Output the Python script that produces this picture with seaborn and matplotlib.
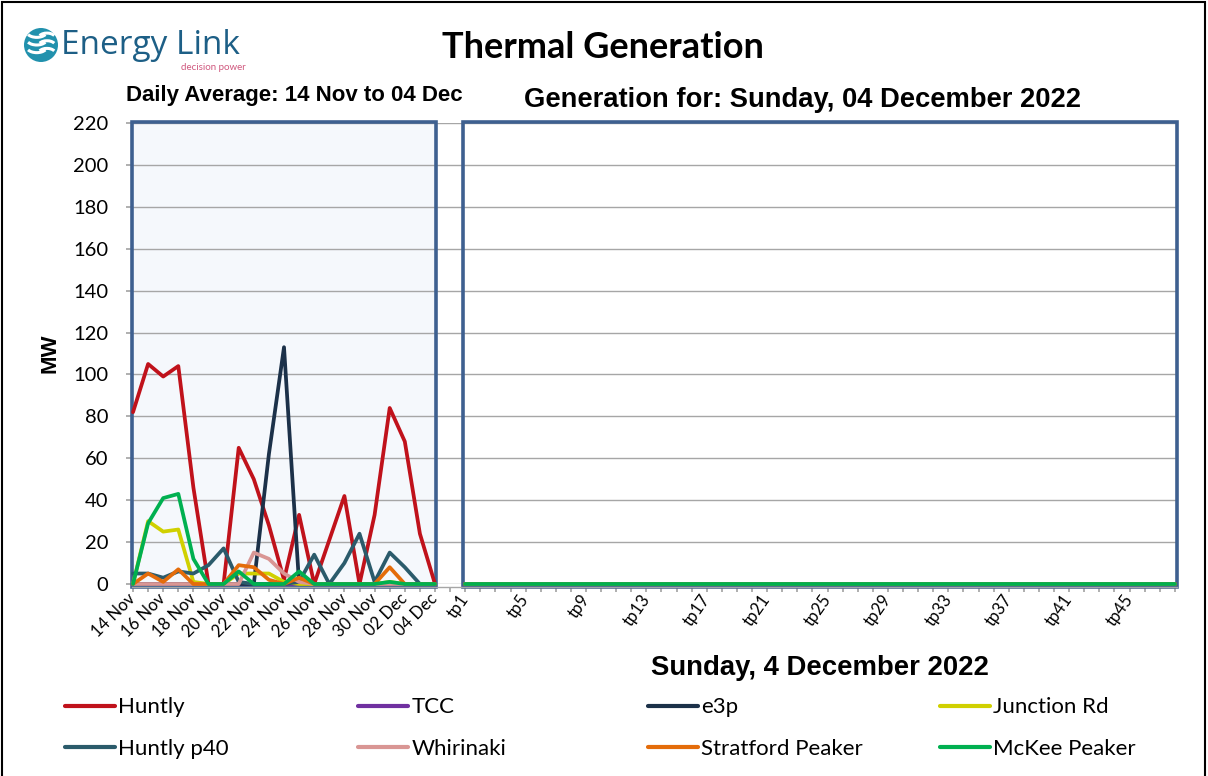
import matplotlib
matplotlib.use("Agg")
import matplotlib.pyplot as plt
from matplotlib.patches import Rectangle, Circle, Arc
import seaborn as sns
import pandas as pd

# stations and their colours
stations = ["Huntly", "TCC", "e3p", "Junction Rd",
            "Huntly p40", "Whirinaki", "Stratford Peaker", "McKee Peaker"]
station_colors = ["#c0121b", "#7030a0", "#1c3149", "#d0d000",
                  "#2b5b6b", "#d99694", "#e46c0a", "#00b050"]

# daily averages, 14 Nov .. 04 Dec (MW)
days = ["14 Nov", "15 Nov", "16 Nov", "17 Nov", "18 Nov", "19 Nov", "20 Nov",
        "21 Nov", "22 Nov", "23 Nov", "24 Nov", "25 Nov", "26 Nov", "27 Nov",
        "28 Nov", "29 Nov", "30 Nov", "01 Dec", "02 Dec", "03 Dec", "04 Dec"]
day_ticks = ["14 Nov", "16 Nov", "18 Nov", "20 Nov", "22 Nov", "24 Nov",
             "26 Nov", "28 Nov", "30 Nov", "02 Dec", "04 Dec"]

huntly = [82, 105, 99, 104, 46, 0, 0, 65, 50, 28, 2, 33, 0, 21, 42, 0, 33, 84, 68, 24, 0]
tcc = [0, 0, 0, 0, 0, 0, 0, 0, 0, 0, 0, 0, 0, 0, 0, 0, 0, 0, 0, 0, 0]
e3p = [0, 0, 0, 0, 0, 0, 0, 0, 0, 62, 113, 0, 0, 0, 0, 0, 0, 0, 0, 0, 0]
junction_rd = [0, 30, 25, 26, 1, 0, 0, 5, 5, 5, 1, 0, 0, 0, 0, 0, 0, 1, 0, 0, 0]
huntly_p40 = [5, 5, 3, 6, 5, 9, 17, 1, 0, 0, 0, 1, 14, 0, 10, 24, 1, 15, 8, 0, 0]
whirinaki = [0, 0, 0, 0, 0, 0, 0, 0, 15, 12, 5, 1, 0, 0, 0, 0, 0, 0, 0, 0, 0]
stratford = [0, 5, 1, 7, 0, 0, 0, 9, 8, 2, 0, 3, 0, 0, 0, 0, 0, 8, 0, 0, 0]
mckee = [0, 29, 41, 43, 12, 0, 0, 6, 0, 0, 0, 6, 0, 0, 0, 0, 0, 1, 0, 0, 0]
daily = [huntly, tcc, e3p, junction_rd, huntly_p40, whirinaki, stratford, mckee]

# trading periods for Sunday 4 December 2022: every station at 0 MW
tp_names = [f"tp{i}" for i in range(1, 49)]
tp_ticks = ["tp1", "tp5", "tp9", "tp13", "tp17", "tp21",
            "tp25", "tp29", "tp33", "tp37", "tp41", "tp45"]
tp_mw = [0] * 48

# one category axis: the days, one empty slot, then the trading periods
day_pos = list(range(len(days)))
tp_pos = [len(days) + 1 + i for i in range(len(tp_names))]

rows = []
for name, vals in zip(stations, daily):
    for p, v in zip(day_pos, vals):
        rows.append({"pos": p, "MW": v, "station": name})
df_daily = pd.DataFrame(rows)
rows = []
for name in stations:
    for p, v in zip(tp_pos, tp_mw):
        rows.append({"pos": p, "MW": v, "station": name})
df_tp = pd.DataFrame(rows)

sns.set_theme(style="white")
plt.rcParams["font.family"] = ["Lato", "DejaVu Sans"]
plt.rcParams["axes.axisbelow"] = "line"
for k in ["text.color", "axes.labelcolor", "xtick.labelcolor", "ytick.labelcolor"]:
    plt.rcParams[k] = "black"

fig = plt.figure(figsize=(12.08, 7.76), dpi=100)
W, H = 1208, 776
ax = fig.add_axes([131.5 / W, 1 - 584 / H, 1045.5 / W, 461 / H])
ax.set_xlim(-0.1, 69.14)
ax.set_ylim(0, 220)

palette = dict(zip(stations, station_colors))
sns.lineplot(data=df_daily, x="pos", y="MW", hue="station", hue_order=stations,
             palette=palette, linewidth=2.7, ax=ax, legend=True, zorder=3,
             clip_on=False)
sns.lineplot(data=df_tp, x="pos", y="MW", hue="station", hue_order=stations,
             palette=palette, linewidth=2.7, ax=ax, legend=False, zorder=3,
             clip_on=False)
handles, labels = ax.get_legend_handles_labels()
ax.get_legend().remove()

# panels (frames sit a touch below the zero line, as in the original)
panel_edge = "#3e6090"
left_x0, left_x1 = -0.1, 20.07
right_x0, right_x1 = 21.85, 69.14
y0, y1 = -1.6, 220.4
ax.add_patch(Rectangle((left_x0, y0), left_x1 - left_x0, y1 - y0, facecolor="#f5f8fc",
                       edgecolor="none", zorder=0.2, clip_on=False))
for x0, x1 in [(left_x0, left_x1), (right_x0, right_x1)]:
    ax.add_patch(Rectangle((x0, y0), x1 - x0, y1 - y0, fill=False, edgecolor=panel_edge,
                           linewidth=2.6, zorder=2.5, clip_on=False))

ax.set_yticks(range(0, 221, 20))
ax.yaxis.grid(True, color="#a6a6a6", linewidth=1)
ax.xaxis.grid(False)
for s in ["top", "right", "left"]:
    ax.spines[s].set_visible(False)
ax.spines["bottom"].set_color("#a6a6a6")
ax.spines["bottom"].set_linewidth(1)
ax.spines["bottom"].set_position(("data", y0))
ax.tick_params(axis="y", direction="out", length=4.5, color="#a6a6a6",
               labelsize=14.5, pad=12, left=True)
ax.tick_params(axis="x", direction="out", length=3.5, color="#a6a6a6",
               labelsize=12, pad=3, bottom=True)

all_pos = day_pos + [len(days)] + tp_pos
all_names = days + [""] + tp_names
ax.set_xticks(all_pos)
ax.set_xticklabels([n if (n in day_ticks or n in tp_ticks) else "" for n in all_names])
for lab in ax.get_xticklabels():
    t = lab.get_text()
    if t.startswith("tp"):
        lab.set_rotation(55)
    else:
        lab.set_rotation(45)
    lab.set_ha("right")
    lab.set_va("center")
    lab.set_rotation_mode("anchor")
ax.set_xlabel("")
ax.set_ylabel("MW", fontsize=16, fontweight="bold", family=["Liberation Sans"],
              labelpad=9)

# texts
fig.text(603 / W, 1 - 48 / H, "Thermal Generation", fontsize=26, fontweight="bold",
         ha="center", va="center")
fig.text(294 / W, 1 - 96 / H, "Daily Average: 14 Nov to 04 Dec", fontsize=16,
         fontweight="bold", family=["Liberation Sans"], ha="center", va="center")
fig.text(802 / W, 1 - 100 / H, "Generation for: Sunday, 04 December 2022", fontsize=19.7,
         fontweight="bold", family=["Liberation Sans"], ha="center", va="center")
fig.text(820 / W, 1 - 668 / H, "Sunday, 4 December 2022", fontsize=19.8,
         fontweight="bold", family=["Liberation Sans"], ha="center", va="center")

# logo
lax = fig.add_axes([24 / W, 1 - 62 / H, 34 / W, 34 / H])
lax.set_xlim(-1, 1)
lax.set_ylim(-1, 1)
lax.axis("off")
lax.add_patch(Circle((0, 0), 1, facecolor="#2191ad", edgecolor="none"))
for dy in [-0.45, 0.0, 0.45]:
    lax.add_patch(Arc((-0.25, dy + 0.35), 1.2, 0.7, theta1=200, theta2=340,
                      color="white", linewidth=2.2))
    lax.add_patch(Arc((0.35, dy - 0.05), 1.0, 0.6, theta1=20, theta2=160,
                      color="white", linewidth=2.2))
fig.text(61 / W, 1 - 45 / H, "Energy Link", fontsize=24, color="#1d5f86",
         family=["Open Sans"], ha="left", va="center")
fig.text(246 / W, 1 - 67 / H, "decision power", fontsize=7, color="#d0587e",
         ha="right", va="center")

# outer frame
fig.patches.append(Rectangle((2 / W, -0.01), 1203 / W, 1 - 2 / H + 0.01,
                             transform=fig.transFigure, fill=False,
                             edgecolor="black", linewidth=1.5))

# legend in four columns of two
order = [0, 4, 1, 5, 2, 6, 3, 7]
col_x = [65, 358, 648, 940]
for c, x in enumerate(col_x):
    idx = order[2 * c:2 * c + 2]
    leg = fig.legend([handles[i] for i in idx], [labels[i] for i in idx],
                     loc="center left", bbox_to_anchor=(x / W, 1 - 728 / H),
                     frameon=False, fontsize=16, handlelength=2.25,
                     handletextpad=0.15, labelspacing=0.95, borderpad=0,
                     borderaxespad=0)
    for ln in leg.get_lines():
        ln.set_linewidth(3)

fig.savefig("out.png", dpi=100)
